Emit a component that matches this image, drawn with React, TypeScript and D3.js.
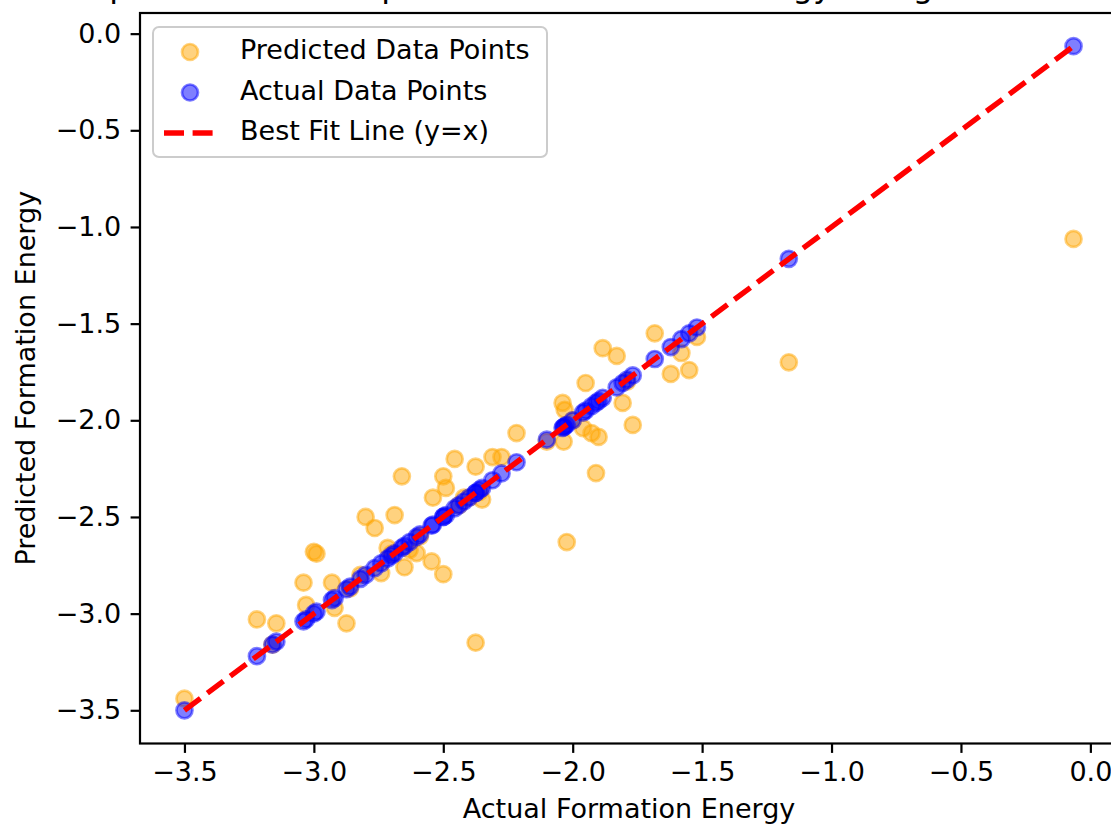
import * as d3 from "d3";
import {useEffect, useRef} from "react";

// actual vs predicted formation energy
const actual = [
  -3.50, -3.22, -3.16, -3.145, -3.04, -3.03, -3.00, -2.99, -2.93, -2.92,
  -2.874, -2.86, -2.82, -2.80, -2.765, -2.74, -2.715, -2.70, -2.688, -2.66,
  -2.65, -2.63, -2.603, -2.59, -2.545, -2.54, -2.50, -2.50, -2.49, -2.456,
  -2.44, -2.42, -2.40, -2.375, -2.375, -2.36, -2.35, -2.31, -2.275, -2.217,
  -2.10, -2.039, -2.035, -2.031, -2.023, -2.00, -1.96, -1.95, -1.927, -1.91,
  -1.90, -1.884, -1.83, -1.807, -1.79, -1.768, -1.683, -1.621, -1.58, -1.55,
  -1.52, -1.165, -0.065,
];
const predicted = [
  -3.44, -3.03, -3.16, -3.05, -2.84, -2.955, -2.68, -2.69, -2.84, -2.97,
  -3.05, -2.87, -2.80, -2.50, -2.557, -2.79, -2.66, -2.69, -2.49, -2.29,
  -2.76, -2.67, -2.687, -2.60, -2.73, -2.40, -2.796, -2.29, -2.35, -2.20,
  -2.44, -2.40, -2.40, -2.24, -3.15, -2.37, -2.41, -2.19, -2.19, -2.066,
  -2.11, -1.91, -2.11, -1.946, -2.63, -2.00, -2.04, -1.807, -2.066, -2.273,
  -2.086, -1.627, -1.667, -1.91, -1.80, -2.024, -1.55, -1.76, -1.652, -1.74,
  -1.569, -1.70, -1.062,
];
const ticks = [-3.5, -3.0, -2.5, -2.0, -1.5, -1.0, -0.5, 0.0];
const legendLabels = ["Predicted Data Points", "Actual Data Points", "Best Fit Line (y=x)"];
const title = "Scatter plot of Actual vs predicted Formation Energy Using Random Forest";
const xLabel = "Actual Formation Energy";
const yLabel = "Predicted Formation Energy";

export default function App() {
  const svgRef = useRef(null);

  useEffect(() => {
    if (!svgRef.current) return;
    const svg = d3.select(svgRef.current);
    svg.selectAll("*").remove();

    const width = 1111;
    const height = 825;
    const left = 140, right = 1118, top = 13, bottom = 743.5;
    const font = "DejaVu Sans";
    const fs = 27;

    // matplotlib style 5% margins around the data
    const xExt = d3.extent(actual);
    const yExt = d3.extent(actual.concat(predicted));
    const xPad = (xExt[1] - xExt[0]) * 0.05;
    const yPad = (yExt[1] - yExt[0]) * 0.05;

    const x = d3.scaleLinear().domain([xExt[0] - xPad, xExt[1] + xPad]).range([left, right]);
    const y = d3.scaleLinear().domain([yExt[0] - yPad, yExt[1] + yPad]).range([bottom, top]);

    svg.attr("width", width).attr("height", height).attr("viewBox", [0, 0, width, height]);
    svg.append("rect").attr("width", width).attr("height", height).attr("fill", "white");

    // title (mostly cropped above the picture)
    svg.append("text")
      .attr("x", -18).attr("y", -3)
      .attr("font-family", font).attr("font-size", 32.4)
      .text(title);

    // points
    const plot = svg.append("g");
    plot.append("g").selectAll("circle")
      .data(actual.map((a, i) => [a, predicted[i]]))
      .join("circle")
      .attr("cx", d => x(d[0])).attr("cy", d => y(d[1])).attr("r", 8)
      .attr("fill", "orange").attr("fill-opacity", 0.5)
      .attr("stroke", "orange").attr("stroke-opacity", 0.5).attr("stroke-width", 2.7);

    plot.append("g").selectAll("circle")
      .data(actual)
      .join("circle")
      .attr("cx", d => x(d)).attr("cy", d => y(d)).attr("r", 8)
      .attr("fill", "blue").attr("fill-opacity", 0.5)
      .attr("stroke", "blue").attr("stroke-opacity", 0.5).attr("stroke-width", 2.7);

    const lo = d3.min(actual), hi = d3.max(actual);
    plot.append("path")
      .datum([lo, hi])
      .attr("d", d3.line().x(d => x(d)).y(d => y(d)))
      .attr("fill", "none").attr("stroke", "red")
      .attr("stroke-width", 5.4).attr("stroke-dasharray", "20,8.6");

    // axes
    const fmt = d3.format(".1f");
    const xAxis = svg.append("g")
      .attr("transform", `translate(0,${bottom})`)
      .call(d3.axisBottom(x).tickValues(ticks).tickFormat(fmt).tickSize(9.4).tickPadding(9.4));
    const yAxis = svg.append("g")
      .attr("transform", `translate(${left},0)`)
      .call(d3.axisLeft(y).tickValues(ticks).tickFormat(fmt).tickSize(9.4).tickPadding(9.4));
    [xAxis, yAxis].forEach(g => {
      g.select(".domain").remove();
      g.selectAll("line").attr("stroke", "black").attr("stroke-width", 2.2);
      g.selectAll("text").attr("font-family", font).attr("font-size", fs).attr("fill", "black");
    });

    // spines
    svg.append("rect")
      .attr("x", left).attr("y", top)
      .attr("width", right - left).attr("height", bottom - top)
      .attr("fill", "none").attr("stroke", "black").attr("stroke-width", 2.2);

    // axis labels
    svg.append("text")
      .attr("x", (left + right) / 2).attr("y", 818)
      .attr("text-anchor", "middle")
      .attr("font-family", font).attr("font-size", fs)
      .text(xLabel);
    svg.append("text")
      .attr("transform", `translate(35,${(top + bottom) / 2}) rotate(-90)`)
      .attr("text-anchor", "middle")
      .attr("font-family", font).attr("font-size", fs)
      .text(yLabel);

    // legend
    const lg = svg.append("g").attr("transform", "translate(153,27)");
    lg.append("rect")
      .attr("width", 394).attr("height", 130).attr("rx", 6)
      .attr("fill", "white").attr("fill-opacity", 0.8)
      .attr("stroke", "#cccccc").attr("stroke-width", 2);
    const rows = lg.selectAll("g.row")
      .data(legendLabels)
      .join("g")
      .attr("class", "row")
      .attr("transform", (d, i) => `translate(0,${25 + i * 40.5})`);
    rows.filter((d, i) => i < 2).append("circle")
      .attr("cx", 37).attr("r", 8)
      .attr("fill", (d, i) => i === 0 ? "orange" : "blue").attr("fill-opacity", 0.5)
      .attr("stroke", (d, i) => i === 0 ? "orange" : "blue").attr("stroke-opacity", 0.5)
      .attr("stroke-width", 2.7);
    rows.filter((d, i) => i === 2).append("line")
      .attr("x1", 11).attr("x2", 61)
      .attr("stroke", "red").attr("stroke-width", 5.4).attr("stroke-dasharray", "20,8.6");
    rows.append("text")
      .attr("x", 87).attr("y", 7)
      .attr("font-family", font).attr("font-size", fs)
      .text(d => d);
  }, []);

  return <svg ref={svgRef} style={{position: "absolute", left: 0, top: 0}}></svg>;
}
